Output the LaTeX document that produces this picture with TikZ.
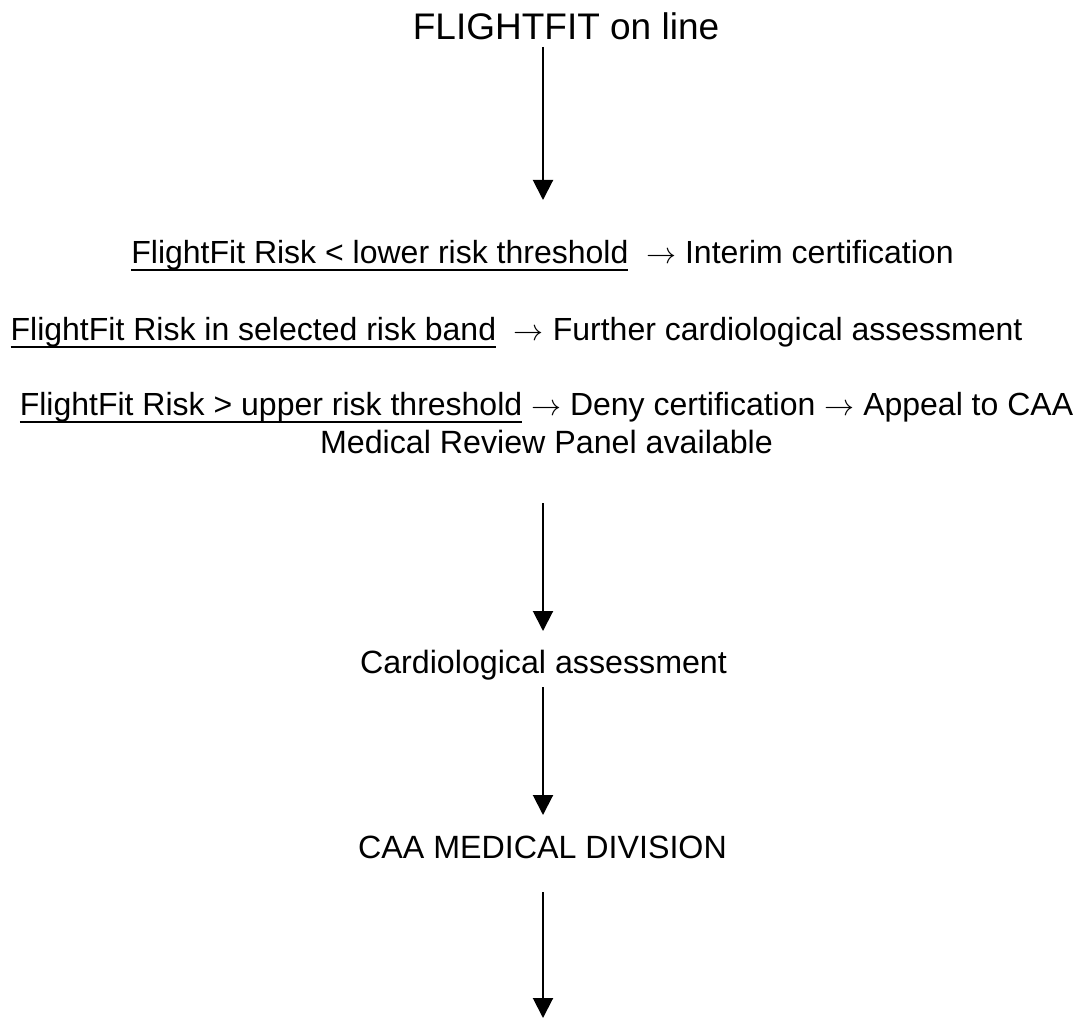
\documentclass[tikz,border=0pt]{standalone}
\usepackage{fontspec}
\setmainfont{Liberation Sans}
\usetikzlibrary{arrows.meta}
\newcommand{\ulin}[1]{\setbox0\hbox{#1}\rlap{\rule[-7.5pt]{\wd0}{2pt}}\box0\relax}
\newcommand{\rarr}{\resizebox{30pt}{!}{$\rightarrow$}}
\begin{document}
\begin{tikzpicture}[x=1pt,y=-1pt,
  txt/.style={inner sep=0pt, anchor=base, font=\fontsize{32}{38}\selectfont},
  arr/.style={line width=2pt, -{Triangle[width=20pt,length=20pt]}}]
\useasboundingbox (0,0) rectangle (1091,1019);
\node[txt, font=\fontsize{37}{40}\selectfont] (title) at (566,40) {FLIGHTFIT on line};
\node[txt] (l1) at (542.5,263) {\ulin{FlightFit Risk < lower risk threshold}\ \ \rarr\ Interim certification};
\node[txt] (l2) at (516.5,340) {\ulin{FlightFit Risk in selected risk band}\ \ \rarr\ Further cardiological assessment};
\node[txt] (l3) at (546.5,415) {\ulin{FlightFit Risk > upper risk threshold} \rarr\ Deny certification \rarr\ Appeal to CAA};
\node[txt, font=\fontsize{32.2}{38}\selectfont] (l3b) at (546.5,453) {Medical Review Panel available};
\node[txt, font=\fontsize{32.2}{38}\selectfont] (card) at (543.5,673) {Cardiological assessment};
\node[txt, font=\fontsize{32.2}{38}\selectfont] (caa) at (542.5,858) {CAA MEDICAL DIVISION};
\coordinate (a1s) at (543,47);  \coordinate (a1e) at (543,200);
\coordinate (a2s) at (543,503); \coordinate (a2e) at (543,631);
\coordinate (a3s) at (543,687); \coordinate (a3e) at (543,815);
\coordinate (a4s) at (543,892); \coordinate (a4e) at (543,1018);
\draw[arr] (a1s) -- (a1e);
\draw[arr] (a2s) -- (a2e);
\draw[arr] (a3s) -- (a3e);
\draw[arr] (a4s) -- (a4e);
\end{tikzpicture}
\end{document}
